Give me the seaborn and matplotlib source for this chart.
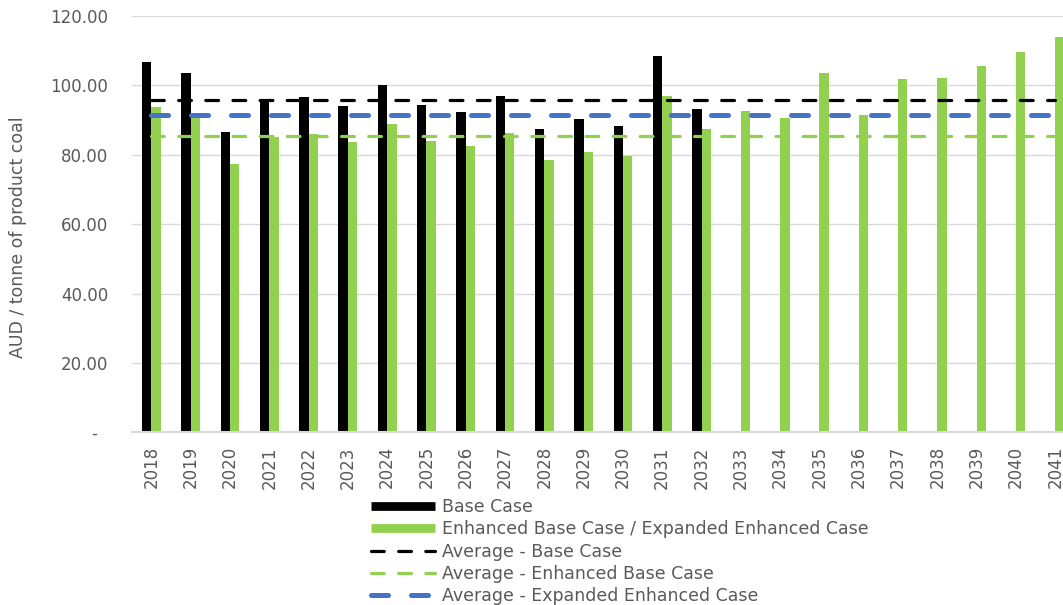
import pandas as pd
import numpy as np
import matplotlib.pyplot as plt
import seaborn as sns
from matplotlib.lines import Line2D

## Daten
years = [str(y) for y in range(2018, 2042)]
base_case = [106.7, 103.6, 86.6, 96.1, 96.7, 94.0, 100.0, 94.3, 92.3, 96.9, 87.5, 90.2,
             88.4, 108.5, 93.2] + [np.nan] * 9
enhanced = [93.8, 91.0, 77.4, 85.2, 86.0, 83.7, 88.8, 84.0, 82.5, 86.2, 78.5, 80.8,
            79.7, 96.9, 87.3, 92.5, 90.5, 103.7, 91.4, 101.8, 102.1, 105.6, 109.6, 114.0]
avg_base = 95.8
avg_enhanced = 85.3
avg_expanded = 91.4

series_names = ['Base Case', 'Enhanced Base Case / Expanded Enhanced Case']

df = pd.DataFrame({
    'year': years * 2,
    'value': base_case + enhanced,
    'series': [series_names[0]] * len(years) + [series_names[1]] * len(years),
})

## Farben
black = '#000000'
green = '#92D050'
blue = '#4472C4'
grey_txt = '#595959'
grid = '#D9D9D9'

sns.set_style('white')
plt.rcParams['font.family'] = ['DejaVu Sans']
plt.rcParams['font.size'] = 12

fig = plt.figure(figsize=(10.63, 6.05), dpi=100)
ax = fig.add_axes([131.7 / 1063, 1 - 432.3 / 605, 943.2 / 1063, (432.3 - 16) / 605])

sns.barplot(data=df, x='year', y='value', hue='series', hue_order=series_names,
            order=years, palette=[black, green], width=0.48, errorbar=None,
            saturation=1, legend=False, linewidth=0, ax=ax, zorder=2)

## Durchschnittslinien
xs = np.arange(len(years))
ax.plot(xs, [avg_base] * len(xs), color=black, lw=2.3, dash_capstyle='round',
        linestyle=(0, (4, 4.5)), zorder=3)
ax.plot(xs, [avg_enhanced] * len(xs), color=green, lw=2.3, dash_capstyle='round',
        linestyle=(0, (4, 4.5)), zorder=3)
ax.plot(xs, [avg_expanded] * len(xs), color=blue, lw=3.6, dash_capstyle='round',
        linestyle=(0, (3.4, 4.6)), zorder=3)

## Achsen
ax.set_xlim(-0.5, len(years) - 0.5)
ax.set_ylim(0, 120)
yt = [0, 20, 40, 60, 80, 100, 120]
ax.set_yticks(yt)
ax.set_yticklabels(['-\u2007'] + ['%.2f' % v for v in yt[1:]])
ax.yaxis.grid(True, color=grid, lw=1.0, zorder=0)
ax.set_axisbelow(True)
for s in ['left', 'right', 'top']:
    ax.spines[s].set_visible(False)
ax.spines['bottom'].set_color(grid)
ax.spines['bottom'].set_linewidth(1.5)
ax.tick_params(axis='y', length=0, pad=17, colors=grey_txt, labelsize=12)
ax.tick_params(axis='x', length=0, pad=10, colors=grey_txt, labelsize=12, labelrotation=90)
ax.set_xlabel('')
ax.set_ylabel('AUD / tonne of product coal', color=grey_txt, fontsize=12.5)
ax.yaxis.set_label_coords(-0.111, 0.468)

## Legende
handles = [
    Line2D([], [], color=black, lw=6.3, solid_capstyle='butt'),
    Line2D([], [], color=green, lw=6.3, solid_capstyle='butt'),
    Line2D([], [], color=black, lw=2.3, dash_capstyle='round', linestyle=(0, (4, 4.5))),
    Line2D([], [], color=green, lw=2.3, dash_capstyle='round', linestyle=(0, (4, 4.5))),
    Line2D([], [], color=blue, lw=3.6, dash_capstyle='round', linestyle=(0, (3.4, 4.6))),
]
labels = series_names + ['Average - Base Case', 'Average - Enhanced Base Case',
                         'Average - Expanded Enhanced Case']
leg = fig.legend(handles, labels, loc='upper left', bbox_to_anchor=(371 / 1063, 1 - 498 / 605),
                 frameon=False, fontsize=12.5, handlelength=3.7, handletextpad=0.39,
                 labelspacing=0.25, borderpad=0, borderaxespad=0)
for t in leg.get_texts():
    t.set_color(grey_txt)

fig.savefig('out.png', dpi=100)
